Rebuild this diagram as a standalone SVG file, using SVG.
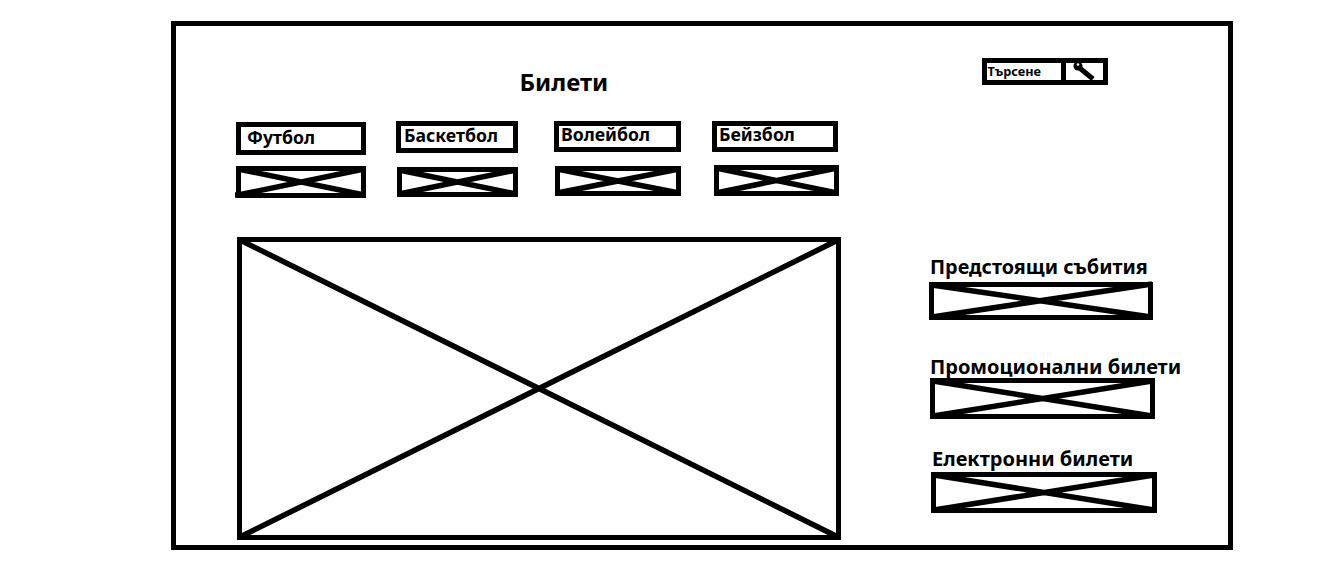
<svg xmlns="http://www.w3.org/2000/svg" width="1343" height="571" viewBox="0 0 1343 571">
<style>
.b{fill:#fff;stroke:#000;stroke-width:5}
.x{fill:none;stroke:#000;stroke-width:5.5}
text{font-family:"Noto Sans","DejaVu Sans",sans-serif;font-weight:700;fill:#000}
.m{font-size:17.7px}
.l{font-size:20px}
</style>
<rect width="1343" height="571" fill="#fff"/>
<g id="page"><rect class="b" x="173.5" y="23.5" width="1057" height="524"/></g>
<g id="title"><text x="519.5" y="91" font-size="24">Билети</text></g>
<g id="search">
<rect class="b" x="984.5" y="60.5" width="121" height="22"/>
<path d="M1063.5 60v23" stroke="#000" stroke-width="5"/>
<text x="987.5" y="76" font-size="12.7">Търсене</text>
<path d="M1076 65l17 14" stroke="#000" stroke-width="5" fill="none"/>
<circle cx="1078" cy="66" r="4.5" fill="#000"/><circle cx="1078" cy="64.5" r="1.3" fill="#fff"/>
</g>
<g id="tab-football"><rect class="b" x="238.5" y="124.5" width="125" height="28"/><text class="m" x="247" y="144">Футбол</text></g>
<g id="tab-basketball"><rect class="b" x="398.5" y="123.5" width="117" height="27"/><text class="m" x="404" y="142">Баскетбол</text></g>
<g id="tab-volleyball"><rect class="b" x="556.5" y="123.5" width="122" height="26"/><text class="m" x="561" y="141">Волейбол</text></g>
<g id="tab-baseball"><rect class="b" x="714.5" y="123.5" width="121" height="26"/><text class="m" x="719" y="141">Бейзбол</text></g>
<g id="img-football"><rect class="b" x="238.5" y="168.5" width="125" height="27"/><path class="x" d="M238 169L364 195M238 195L364 169M235 195h5"/></g>
<g id="img-basketball"><rect class="b" x="399.5" y="169.5" width="116" height="25"/><path class="x" d="M399 170L516 194M399 194L516 170"/></g>
<g id="img-volleyball"><rect class="b" x="557.5" y="168.5" width="121" height="25"/><path class="x" d="M557 169L679 193M557 193L679 169"/></g>
<g id="img-baseball"><rect class="b" x="716.5" y="167.5" width="120" height="26"/><path class="x" d="M716 168L837 193M716 193L837 168"/></g>
<g id="main-image"><rect class="b" x="239.5" y="239.5" width="599" height="298"/><path class="x" d="M240 240L838 537M240 537L838 240"/></g>
<g id="upcoming"><text class="l" x="930" y="274" style="font-size:19.8px">Предстоящи събития</text><rect class="b" x="931.5" y="284.5" width="219" height="33"/><path class="x" d="M932 285L1151 317M932 317L1152 284"/></g>
<g id="promo"><text class="l" x="930" y="374">Промоционални билети</text><rect class="b" x="932.5" y="380.5" width="220" height="36"/><path class="x" d="M933 381L1152 416M933 416L1152 381"/></g>
<g id="eticket"><text class="l" x="932" y="466">Електронни билети</text><rect class="b" x="933.5" y="474.5" width="221" height="36"/><path class="x" d="M934 475L1154 510M934 510L1154 475"/></g>
<g id="connectors"/>
</svg>
